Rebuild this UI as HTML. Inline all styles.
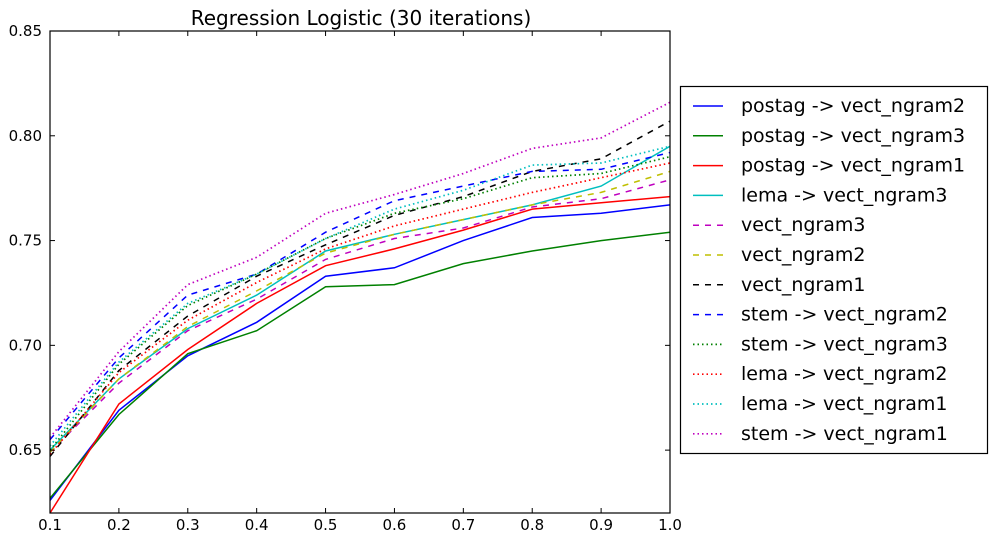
<!DOCTYPE html>
<html><head><meta charset="utf-8"><style>
body{margin:0;background:#fff;}
svg{display:block;font-family:"DejaVu Sans","Liberation Sans",sans-serif;}
</style></head><body>
<svg id="chart" width="997" height="542"></svg>
<script>
const xVals=[0.1,0.2,0.3,0.4,0.5,0.6,0.7,0.8,0.9,1.0];
const seriesNames=["postag -> vect_ngram2","postag -> vect_ngram3","postag -> vect_ngram1","lema -> vect_ngram3","vect_ngram3","vect_ngram2","vect_ngram1","stem -> vect_ngram2","stem -> vect_ngram3","lema -> vect_ngram2","lema -> vect_ngram1","stem -> vect_ngram1"];
const s0=[0.626,0.669,0.695,0.711,0.733,0.737,0.750,0.761,0.763,0.767];
const s1=[0.627,0.667,0.696,0.707,0.728,0.729,0.739,0.745,0.750,0.754];
const s2=[0.620,0.672,0.698,0.720,0.738,0.746,0.755,0.765,0.768,0.771];
const s3=[0.650,0.684,0.708,0.724,0.745,0.753,0.760,0.767,0.776,0.795];
const s4=[0.649,0.682,0.707,0.722,0.741,0.751,0.756,0.766,0.770,0.779];
const s5=[0.649,0.684,0.709,0.726,0.744,0.753,0.760,0.767,0.773,0.783];
const s6=[0.647,0.688,0.714,0.733,0.748,0.762,0.771,0.783,0.789,0.807];
const s7=[0.655,0.694,0.724,0.734,0.754,0.769,0.776,0.783,0.784,0.792];
const s8=[0.650,0.691,0.719,0.734,0.751,0.763,0.770,0.780,0.782,0.790];
const s9=[0.648,0.687,0.712,0.730,0.746,0.757,0.765,0.773,0.780,0.787];
const s10=[0.652,0.692,0.720,0.734,0.751,0.765,0.774,0.786,0.787,0.795];
const s11=[0.656,0.697,0.729,0.742,0.763,0.772,0.782,0.794,0.799,0.816];
const xTicks=["0.1","0.2","0.3","0.4","0.5","0.6","0.7","0.8","0.9","1.0"];
const yTicks=["0.65","0.70","0.75","0.80","0.85"];

const allSeries=[s0,s1,s2,s3,s4,s5,s6,s7,s8,s9,s10,s11];
const colors=["#0000ff","#008000","#ff0000","#00bfbf","#bf00bf","#bfbf00","#000000","#0000ff","#008000","#ff0000","#00bfbf","#bf00bf"];
const dashes=["","","","","6,6","6,6","6,6","6,6","1.5,3","1.5,3","1.5,3","1.5,3"];
const L=50,R=670,T=31,B=513,ymin=0.62,ymax=0.85;
const xs=v=>L+(v-0.1)/0.9*(R-L);
const ys=v=>B-(v-ymin)/(ymax-ymin)*(B-T);
const svg=document.getElementById('chart');
const NS='http://www.w3.org/2000/svg';
function mk(t,a,p){const e=document.createElementNS(NS,t);for(const k in a)e.setAttribute(k,a[k]);(p||svg).appendChild(e);return e;}

const title=mk('text',{x:361,y:25,'text-anchor':'middle','font-size':20});
title.textContent="Regression Logistic (30 iterations)";



const clip=mk('clipPath',{id:'pc'});mk('rect',{x:L,y:T,width:R-L,height:B-T},clip);

allSeries.forEach((s,i)=>{
  const d=s.map((v,j)=>(j?'L':'M')+xs(xVals[j]).toFixed(1)+','+ys(v).toFixed(1)).join('');
  const p=mk('path',{d:d,fill:'none',stroke:colors[i],'stroke-width':i>=8?1.7:1.5,'stroke-dasharray':dashes[i]||'none','clip-path':'url(#pc)'});
  
  
});

const frame=mk('rect',{x:L,y:T,width:R-L,height:B-T,fill:'none',stroke:'#000','stroke-width':1.2});



xTicks.forEach((t,i)=>{
  const x=xs(parseFloat(t));
  mk('line',{x1:x,x2:x,y1:B,y2:B-5,stroke:'#000'});
  mk('line',{x1:x,x2:x,y1:T,y2:T+5,stroke:'#000'});
  const tx=mk('text',{x:x,y:B+17,'text-anchor':'middle','font-size':15});
  tx.textContent=t;
  
  
});
yTicks.forEach(t=>{
  const y=ys(parseFloat(t));
  mk('line',{x1:L,x2:L+5,y1:y,y2:y,stroke:'#000'});
  mk('line',{x1:R,x2:R-5,y1:y,y2:y,stroke:'#000'});
  const tx=mk('text',{x:L-8,y:y+5,'text-anchor':'end','font-size':15});
  tx.textContent=t;
  
  
});

const lg=mk('g',{});


mk('rect',{x:680.5,y:86.5,width:307,height:367,fill:'#fff',stroke:'#000','stroke-width':1.2},lg);
seriesNames.forEach((n,i)=>{
  const y=106+i*29.8;
  const g=mk('g',{},lg);
  
  
  mk('line',{x1:693,x2:723,y1:y,y2:y,stroke:colors[i],'stroke-width':i>=8?1.7:1.5,'stroke-dasharray':dashes[i]||'none'},g);
  const tx=mk('text',{x:741,y:y+6,'font-size':19},g);
  tx.textContent=n;
});
</script>
</body></html>
